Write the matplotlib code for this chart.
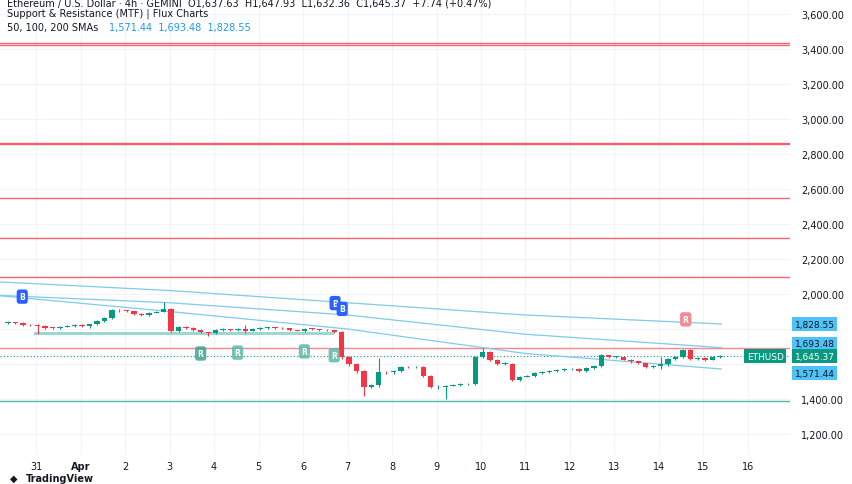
import matplotlib
matplotlib.use("Agg")
import matplotlib.pyplot as plt

closes = [1838,1832,1825,1822,1818,1808,1806,1810,1816,1822,
          1818,1826,1845,1862,1910,1908,1902,1888,1880,1893,
          1900,1915,1790,1812,1806,1795,1780,1778,1795,1798,
          1793,1800,1790,1800,1806,1808,1806,1804,1793,1790,
          1801,1800,1797,1792,1785,1640,1600,1560,1470,1478,
          1555,1552,1562,1585,1582,1585,1532,1466,1470,1475,
          1480,1484,1485,1640,1668,1625,1600,1602,1510,1525,
          1532,1548,1556,1560,1565,1570,1572,1560,1575,1590,
          1650,1640,1642,1625,1615,1605,1585,1590,1598,1628,
          1640,1680,1630,1636,1625,1640,1645]
first_open = 1832
highs = [1845,1842,1838,1830,1826,1822,1812,1815,1820,1828,
         1826,1830,1850,1868,1916,1915,1910,1905,1890,1898,
         1905,1955,1918,1818,1816,1810,1798,1785,1800,1805,
         1800,1806,1820,1805,1812,1812,1812,1810,1806,1796,
         1806,1805,1802,1800,1795,1788,1645,1605,1565,1485,
         1634,1562,1568,1590,1590,1590,1590,1535,1478,1480,
         1486,1490,1490,1645,1690,1672,1628,1610,1605,1530,
         1538,1552,1562,1566,1570,1575,1578,1575,1580,1595,
         1655,1652,1648,1645,1628,1618,1608,1596,1640,1632,
         1645,1688,1686,1642,1638,1644,1650]
lows = [1828,1826,1815,1815,1772,1802,1800,1800,1810,1814,
        1812,1806,1820,1840,1858,1900,1896,1882,1874,1876,
        1890,1895,1785,1785,1800,1790,1775,1760,1772,1790,
        1788,1790,1775,1786,1795,1800,1800,1798,1788,1786,
        1784,1794,1790,1786,1776,1630,1590,1548,1418,1465,
        1470,1540,1545,1556,1575,1576,1525,1460,1455,1400,
        1472,1476,1478,1480,1636,1618,1592,1595,1500,1505,
        1524,1528,1542,1550,1555,1560,1565,1556,1555,1570,
        1585,1632,1634,1620,1608,1598,1578,1575,1570,1590,
        1625,1635,1625,1622,1615,1620,1636]
start_day = -0.63  # days relative to Mar 31

sma_days = [-0.81, 3, 7, 11, 15.4]
sma50 = [1990, 1900, 1800, 1660, 1571.44]
sma100 = [1992, 1950, 1880, 1770, 1693.48]
sma200 = [2069, 2020, 1950, 1880, 1828.55]

red_levels = [3435, 3425, 2865, 2855, 2550, 2320, 2100]
near_res = 1693.48
green_level = 1390
zone = (1764, 1784, -0.05, 6.7)

b_marks = [(-0.31, 1985), (6.72, 1948), (6.88, 1915)]
r_marks_green = [(3.7, 1660), (4.53, 1665), (6.03, 1672), (6.7, 1650)]
r_marks_red = [(14.6, 1855)]

tick_pos = list(range(0, 17))
tick_labels = ["31", "Apr"] + [str(d) for d in range(2, 17)]
price_ticks = [1200, 1400, 1600, 1800, 2000, 2200, 2400, 2600, 2800, 3000, 3200, 3400, 3600]
hidden_ticks = [1600, 1800]

GREEN = "#089981"; RED = "#F23645"; BLUE = "#2962FF"; SMA = "#7fcbe8"

fig = plt.figure(figsize=(8.52, 4.85), dpi=100)
ax = fig.add_axes([0, 0.062, 0.927, 0.938])
ax.set_xlim(-0.81, 16.94)
ax.set_ylim(1086, 3686)

for d in tick_pos:
    ax.axvline(d, color="#f0f3fa", lw=0.8, zorder=0)
for p in price_ticks:
    ax.axhline(p, color="#f0f3fa", lw=0.8, zorder=0)

for lv in red_levels:
    ax.axhline(lv, color="#f7525f", lw=1.0, alpha=0.9, zorder=1)
ax.axhline(near_res, color="#f7525f", lw=1.0, alpha=0.7, zorder=1)
ax.axhline(green_level, color="#22ab94", lw=1.0, alpha=0.8, zorder=1)
ax.fill_between([zone[2], zone[3]], zone[0], zone[1], color="#22ab94", alpha=0.45, lw=0, zorder=1)
ax.axhline(closes[-1], color=GREEN, lw=0.8, ls=(0, (1, 2)), zorder=1)

ax.plot(sma_days, sma50, color=SMA, lw=0.9, zorder=2)
ax.plot(sma_days, sma100, color=SMA, lw=0.9, zorder=2)
ax.plot(sma_days, sma200, color=SMA, lw=0.9, zorder=2)

opens = [first_open] + closes[:-1]
w = 0.12
for i, (o, c, h, l) in enumerate(zip(opens, closes, highs, lows)):
    x = start_day + i / 6
    col = GREEN if c >= o else RED
    ax.vlines(x, l, h, color=col, lw=0.8, zorder=3)
    lo, hi = min(o, c), max(o, c)
    ax.bar(x, max(hi - lo, 3), bottom=lo, width=w, color=col, lw=0, zorder=4)

def label(x, y, txt, col, alpha=1.0):
    ax.text(x, y, txt, color="white", fontsize=5.5, fontweight="bold", ha="center", va="center",
            zorder=6, bbox=dict(boxstyle="round,pad=0.35", fc=col, ec="none", alpha=alpha))
for x, y in b_marks:
    label(x, y, "B", BLUE)
for x, y in r_marks_green:
    label(x, y, "R", "#5fb9a5" if x > 4 else "#3ea38e", 0.85)
for x, y in r_marks_red:
    label(x, y, "R", "#f28b94")

ax.set_xticks(tick_pos)
ax.set_xticklabels(tick_labels)
for t in ax.get_xticklabels():
    t.set_fontsize(7)
    t.set_color("#131722")
    if t.get_text() == "Apr":
        t.set_fontweight("bold")
ax.tick_params(axis="x", length=0, pad=5)
ax.yaxis.tick_right()
ax.set_yticks(price_ticks)
ax.set_yticklabels(["" if p in hidden_ticks else f"{p:,.2f}" for p in price_ticks], fontsize=7, color="#131722")
ax.tick_params(axis="y", length=0, pad=8)
for s in ax.spines.values():
    s.set_visible(False)

def tag(y, txt, col):
    ax.text(17.05, y, txt, color="#131722" if col != GREEN else "white", fontsize=6.5, ha="left", va="center",
            zorder=7, clip_on=False, bbox=dict(boxstyle="square,pad=0.25", fc=col, ec="none"))
# label boxes are nudged apart so they do not overlap (as the reference does)
tag(1828.55, "1,828.55", "#4fc3f7")
tag(1717, "1,693.48", "#4fc3f7")
tag(1548, "1,571.44", "#4fc3f7")
tag(closes[-1], "1,645.37", GREEN)
ax.text(16.8, closes[-1], "ETHUSD", color="white", fontsize=6.5, ha="right", va="center", zorder=7,
        clip_on=False, bbox=dict(boxstyle="square,pad=0.25", fc=GREEN, ec="none"))

fig.text(0.008, 0.993, "Ethereum / U.S. Dollar · 4h · GEMINI  O1,637.63  H1,647.93  L1,632.36  C1,645.37  +7.74 (+0.47%)",
         fontsize=7, color="#131722", va="center")
fig.text(0.008, 0.971, "Support & Resistance (MTF) | Flux Charts", fontsize=7, color="#131722", va="center")
fig.text(0.008, 0.943, "50, 100, 200 SMAs", fontsize=7, color="#131722", va="center")
fig.text(0.128, 0.943, "1,571.44  1,693.48  1,828.55", fontsize=7, color="#2196f3", va="center")
fig.text(0.03, 0.012, "TradingView", fontsize=7, color="#131722", va="center", fontweight="bold")
fig.text(0.012, 0.012, "◆", fontsize=7, color="#131722", va="center")

fig.savefig("out.png", dpi=100, facecolor="white")
